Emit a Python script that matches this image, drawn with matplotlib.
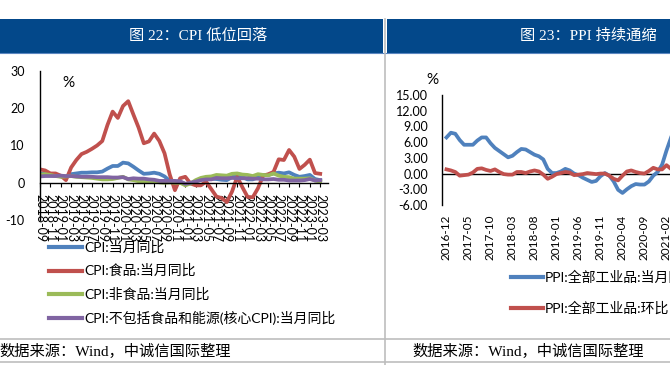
import numpy as np
import matplotlib.pyplot as plt
from matplotlib.patches import Rectangle
from matplotlib.lines import Line2D

plt.rcParams['font.family'] = ['Lato', 'Noto Sans CJK SC', 'DejaVu Sans']
plt.rcParams['axes.unicode_minus'] = False

# ---- 图22 数据 (2018-09 ~ 2023-03, 月度) ----
cpi_labels = ['2018-09', '2018-11', '2019-01', '2019-03', '2019-05', '2019-07', '2019-09',
              '2019-11', '2020-01', '2020-03', '2020-05', '2020-07', '2020-09', '2020-11',
              '2021-01', '2021-03', '2021-05', '2021-07', '2021-09', '2021-11', '2022-01',
              '2022-03', '2022-05', '2022-07', '2022-09', '2022-11', '2023-01', '2023-03']
cpi_yoy = [2.5, 2.5, 2.2, 1.9, 1.7, 1.5, 2.3, 2.5, 2.7, 2.7, 2.8, 2.8, 3.0, 3.8, 4.5, 4.5,
           5.4, 5.2, 4.3, 3.3, 2.4, 2.5, 2.7, 2.4, 1.7, 0.5, -0.5, 0.2,
           -0.3, -0.2, 0.4, 0.9, 1.3, 1.1, 1.0, 0.8, 0.7, 1.5, 2.3, 1.5,
           0.9, 0.9, 1.5, 2.1, 2.1, 2.5, 2.7, 2.5, 2.8, 2.1, 1.6, 1.8, 2.1, 1.0, 0.7]
cpi_food = [3.6, 3.3, 2.5, 2.5, 1.9, 0.7, 4.1, 6.1, 7.7, 8.3, 9.1, 10.0, 11.2, 15.5, 19.1, 17.4,
            20.6, 21.9, 18.3, 14.8, 10.6, 11.1, 13.2, 11.2, 7.9, 2.2, -2.0, 1.2,
            1.6, -0.2, -0.7, -0.7, 0.3, -1.7, -3.7, -4.1, -5.2, -2.4, 1.6, -1.2,
            -3.8, -3.9, -1.5, 1.9, 2.3, 2.9, 6.3, 6.1, 8.8, 7.0, 3.7, 4.8, 6.2, 2.6, 2.4]
cpi_nonfood = [2.2, 2.3, 2.1, 1.8, 1.6, 1.7, 1.8, 1.6, 1.5, 1.4, 1.3, 1.1, 0.9, 0.9, 1.0, 1.3,
               1.6, 0.9, 0.7, 0.4, 0.4, 0.3, 0.4, 0.1, 0.0, 0.1, 0.0, 0.0,
               -0.7, -0.2, 0.7, 1.3, 1.6, 1.7, 2.1, 2.0, 1.9, 2.4, 2.5, 2.2,
               2.1, 1.8, 2.3, 2.1, 2.0, 2.5, 1.9, 1.6, 1.5, 1.1, 1.1, 1.1, 1.2, 0.6, 0.3]
cpi_core = [1.7, 1.8, 1.8, 1.8, 1.9, 1.8, 1.8, 1.7, 1.6, 1.6, 1.6, 1.5, 1.5, 1.5, 1.4, 1.4,
            1.5, 1.0, 1.2, 1.1, 1.1, 0.9, 0.8, 0.5, 0.5, 0.5, 0.5, 0.4,
            -0.3, 0.0, 0.3, 0.7, 0.9, 0.9, 1.3, 1.2, 1.2, 1.3, 1.2, 1.2,
            1.2, 1.1, 1.1, 0.9, 0.9, 1.0, 0.8, 0.8, 0.6, 0.6, 0.6, 0.7, 1.0, 0.6, 0.7]
cpi_names = ['CPI:当月同比', 'CPI:食品:当月同比', 'CPI:非食品:当月同比',
             'CPI:不包括食品和能源(核心CPI):当月同比']

# ---- 图23 数据 (2016-12 起, 月度) ----
ppi_labels = ['2016-12', '2017-05', '2017-10', '2018-03', '2018-08', '2019-01', '2019-06',
              '2019-11', '2020-04', '2020-09', '2021-02', '2021-07', '2021-12', '2022-05',
              '2022-10']
ppi_yoy = [6.9, 7.8, 7.6, 6.4, 5.5, 5.5, 5.5, 6.3, 6.9, 6.9, 5.8, 4.9, 4.3, 3.7, 3.1, 3.4,
           4.1, 4.7, 4.6, 4.1, 3.6, 3.3, 2.7, 0.9, 0.1, 0.1, 0.4, 0.9, 0.6, 0.0, -0.3, -0.8,
           -1.2, -1.6, -1.4, -0.5, 0.1, -0.4, -1.5, -3.1, -3.7, -3.0, -2.4, -2.0, -2.1, -2.1,
           -1.5, -0.4, 0.3, 1.7, 4.4, 6.8, 9.0, 8.8, 9.0, 9.5, 10.7, 13.5, 12.9, 10.3, 9.1,
           8.8, 8.3, 8.0, 6.4, 6.1, 4.2, 2.3, -0.9, -1.3, -0.8, -0.7, -0.8, -1.4, -2.5]
ppi_mom = [0.8, 0.6, 0.3, -0.4, -0.3, -0.2, 0.2, 0.9, 1.0, 0.7, 0.5, 0.8, 0.3, -0.1, -0.2,
           -0.2, 0.3, 0.3, 0.1, 0.4, 0.6, 0.4, -0.2, -1.0, -0.6, -0.1, 0.1, 0.3, 0.2, -0.3,
           -0.2, -0.1, 0.1, 0.0, -0.1, 0.0, 0.0, -0.4, -1.0, -1.3, -0.4, 0.4, 0.6, 0.3, 0.1,
           0.0, 0.5, 1.1, 0.8, 0.8, 1.6, 0.9, 1.6, 0.3, 0.5, 0.7, 1.2, 2.5, -0.1, -1.2, -0.2,
           0.5, 1.1, 0.6, 0.1, -0.2, -1.3, -1.2, 0.0, 0.2, -0.1, -0.5, -0.4, 0.0, -0.4]
ppi_names = ['PPI:全部工业品:当月同比', 'PPI:全部工业品:环比']

colors = ['#4F81BD', '#C0504D', '#9BBB59', '#8064A2']
W, H = 670, 365

fig = plt.figure(figsize=(6.7, 3.65), dpi=100)

def fx(px):
    return px / W

def fy(py):
    return 1 - py / H

# 标题栏
hdr = '#03488A'
fig.patches.append(Rectangle((0, fy(53)), fx(383), (53 - 19) / H, transform=fig.transFigure,
                             facecolor=hdr, edgecolor='none', zorder=0))
fig.patches.append(Rectangle((fx(386.5), fy(53)), 1, (53 - 19) / H, transform=fig.transFigure,
                             facecolor=hdr, edgecolor='none', zorder=0))
fig.lines.append(Line2D([0, 1], [fy(52.5), fy(52.5)], transform=fig.transFigure,
                        color='#5B86C0', lw=0.8))
head_font = ['Liberation Serif', 'Noto Sans CJK SC']
fig.text(fx(198), fy(36), '图 22：CPI 低位回落', color='white', fontsize=11,
         family=head_font, ha='center', va='center')
fig.text(fx(520), fy(36), '图 23：PPI 持续通缩', color='white', fontsize=11,
         family=head_font, ha='left', va='center')

# 分隔线
grey = '#BDBDBD'
fig.lines.append(Line2D([fx(385), fx(385)], [fy(19), 0], transform=fig.transFigure,
                        color=grey, lw=1.2))
for yy in [339, 362]:
    fig.lines.append(Line2D([0, 1], [fy(yy), fy(yy)], transform=fig.transFigure,
                            color=grey, lw=1.2))
fig.text(fx(-1), fy(351), '数据来源：Wind，中诚信国际整理', fontsize=11,
         family=head_font, ha='left', va='center')
fig.text(fx(412), fy(351), '数据来源：Wind，中诚信国际整理', fontsize=11,
         family=head_font, ha='left', va='center')


def legend_rows(x0, y_rows, names, cols, length, size):
    # 图例：手工排布，线段 + 文字
    for y, n, c in zip(y_rows, names, cols):
        fig.lines.append(Line2D([fx(x0), fx(x0 + length)], [fy(y), fy(y)],
                                transform=fig.transFigure, color=c, lw=3))
        fig.text(fx(x0 + length + 2), fy(y), n, fontsize=size, ha='left', va='center')


# ---- 图22 ----
ax1 = fig.add_axes([fx(40), fy(220), fx(288), (220 - 71) / H])
ax1.patch.set_alpha(0)
for s in ['top', 'right']:
    ax1.spines[s].set_visible(False)
ax1.spines['bottom'].set_position(('data', 0))
ax1.spines['left'].set_linewidth(1)
ax1.spines['bottom'].set_linewidth(1)
x1 = np.arange(len(cpi_yoy))
for s, c, n in zip([cpi_yoy, cpi_food, cpi_nonfood, cpi_core], colors, cpi_names):
    ax1.plot(x1, s, color=c, lw=2.7, label=n)
ax1.set_xlim(0, 55.5)
ax1.set_ylim(-10, 30)
ax1.set_yticks([-10, 0, 10, 20, 30])
ax1.tick_params(axis='y', length=0, pad=11, labelsize=9)
ax1.set_xticks(np.arange(0, len(x1), 2))
ax1.set_xticklabels(cpi_labels, rotation=-90, fontsize=9)
ax1.tick_params(axis='x', direction='out', length=3, width=0.8, pad=5)
fig.text(fx(68), fy(83), '%', fontsize=11, ha='center', va='center')
legend_rows(49, [247, 270.5, 294, 317.5], cpi_names, colors, 33, 10)

# ---- 图23 ----
ax2 = fig.add_axes([fx(442), fy(205), fx(334.5), (205 - 95) / H])
ax2.patch.set_alpha(0)
for s in ['top', 'right', 'bottom']:
    ax2.spines[s].set_visible(False)
ax2.spines['left'].set_linewidth(1)
x2 = np.arange(len(ppi_yoy))
ax2.axhline(0, color='black', lw=1, zorder=1)
ax2.plot(x2, ppi_yoy, color=colors[0], lw=2.7, label=ppi_names[0], zorder=3)
ax2.plot(x2, ppi_mom, color=colors[1], lw=2.7, label=ppi_names[1], zorder=3)
ax2.set_xlim(-1.02, 75)
ax2.set_ylim(-6, 15)
ax2.set_yticks(np.arange(-6, 16, 3))
ax2.set_yticklabels(['%.2f' % v for v in np.arange(-6, 16, 3)])
ax2.tick_params(axis='y', length=0, pad=10, labelsize=9)
ax2.set_xticks(np.arange(0, len(x2), 5))
ax2.set_xticklabels(ppi_labels, rotation=90, fontsize=8.5)
ax2.tick_params(axis='x', length=0, pad=7)
fig.text(fx(432), fy(80), '%', fontsize=11, ha='center', va='center')
legend_rows(511, [277, 308], ppi_names, colors[:2], 32, 10)

fig.savefig('out.png', dpi=100)
